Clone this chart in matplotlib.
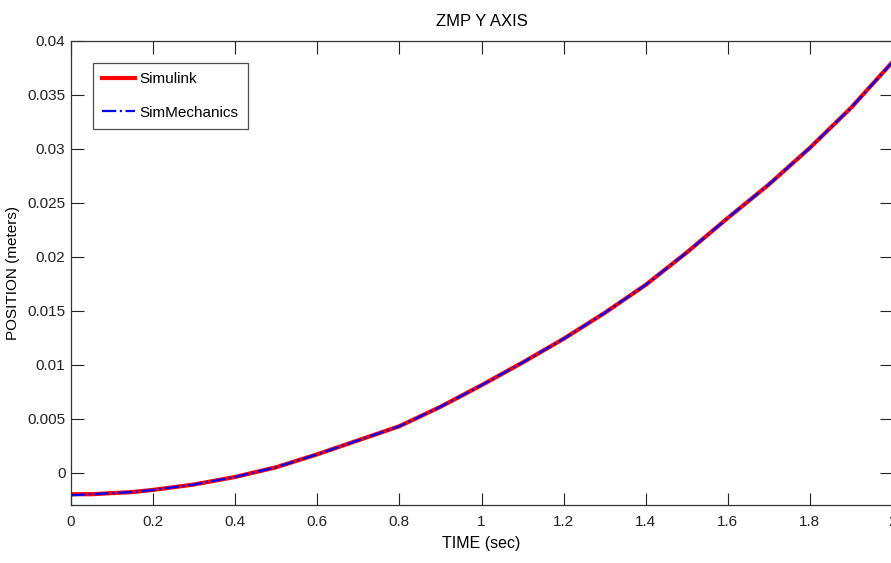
import matplotlib
matplotlib.use('Agg')
import matplotlib.pyplot as plt
import numpy as np

plt.rcParams['font.family'] = ['Liberation Sans', 'DejaVu Sans']

# values
time = [0.0, 0.05, 0.1, 0.15, 0.2, 0.3, 0.4, 0.5, 0.6, 0.7, 0.8, 0.9, 1.0,
        1.1, 1.2, 1.3, 1.4, 1.5, 1.6, 1.7, 1.8, 1.9, 2.0]
simulink = [-0.0020, -0.0020, -0.0019, -0.0018, -0.0016, -0.0011, -0.0004,
            0.0005, 0.0017, 0.0030, 0.0043, 0.0061, 0.0081, 0.0102, 0.0124,
            0.0148, 0.0174, 0.0204, 0.0236, 0.0267, 0.0301, 0.0338, 0.0380]
simmechanics = [-0.0021, -0.0020, -0.0019, -0.0018, -0.0016, -0.0011, -0.0004,
                0.0005, 0.0017, 0.0030, 0.0043, 0.0061, 0.0081, 0.0102, 0.0124,
                0.0148, 0.0174, 0.0204, 0.0236, 0.0267, 0.0301, 0.0338, 0.0380]
xticks = [0, 0.2, 0.4, 0.6, 0.8, 1.0, 1.2, 1.4, 1.6, 1.8, 2.0]
xticklabels = ['0', '0.2', '0.4', '0.6', '0.8', '1', '1.2', '1.4', '1.6', '1.8', '2']
yticks = [0, 0.005, 0.01, 0.015, 0.02, 0.025, 0.03, 0.035, 0.04]
yticklabels = ['0', '0.005', '0.01', '0.015', '0.02', '0.025', '0.03', '0.035', '0.04']

W, H = 891, 563
fig = plt.figure(figsize=(W / 100, H / 100), dpi=100)
ax = fig.add_axes([71 / W, 1 - 505 / H, (892 - 71) / W, (505 - 41) / H])

ax.plot(time, simulink, color='#ff0000', lw=3, label='Simulink')
ax.plot(time, simmechanics, color='#0000ff', lw=1.6, ls='-.', label='SimMechanics')

ax.set_xlim(0, 2)
ax.set_ylim(-0.003, 0.04)
ax.set_xticks(xticks)
ax.set_xticklabels(xticklabels)
ax.set_yticks(yticks)
ax.set_yticklabels(yticklabels)
ax.tick_params(direction='in', length=9, width=0.8, top=True, right=True,
               labelsize=11, colors='#222222', pad=4)
ax.tick_params(axis='x', pad=7)
for s in ax.spines.values():
    s.set_color('#333333')
    s.set_linewidth(0.9)

ax.set_title('ZMP Y AXIS', fontsize=12, pad=11)
ax.set_xlabel('TIME (sec)', fontsize=11.5, labelpad=5)
ax.set_ylabel('POSITION (meters)', fontsize=11, labelpad=5)

leg = ax.legend(loc='upper left', bbox_to_anchor=(22 / 821, 1 - 22 / 464),
                fontsize=11, fancybox=False, handlelength=2.1, borderaxespad=0,
                labelspacing=1.25, handletextpad=0.3, borderpad=0.62)
leg.get_frame().set_edgecolor('#222222')
leg.get_frame().set_linewidth(0.9)

fig.savefig('out.png', dpi=100)
